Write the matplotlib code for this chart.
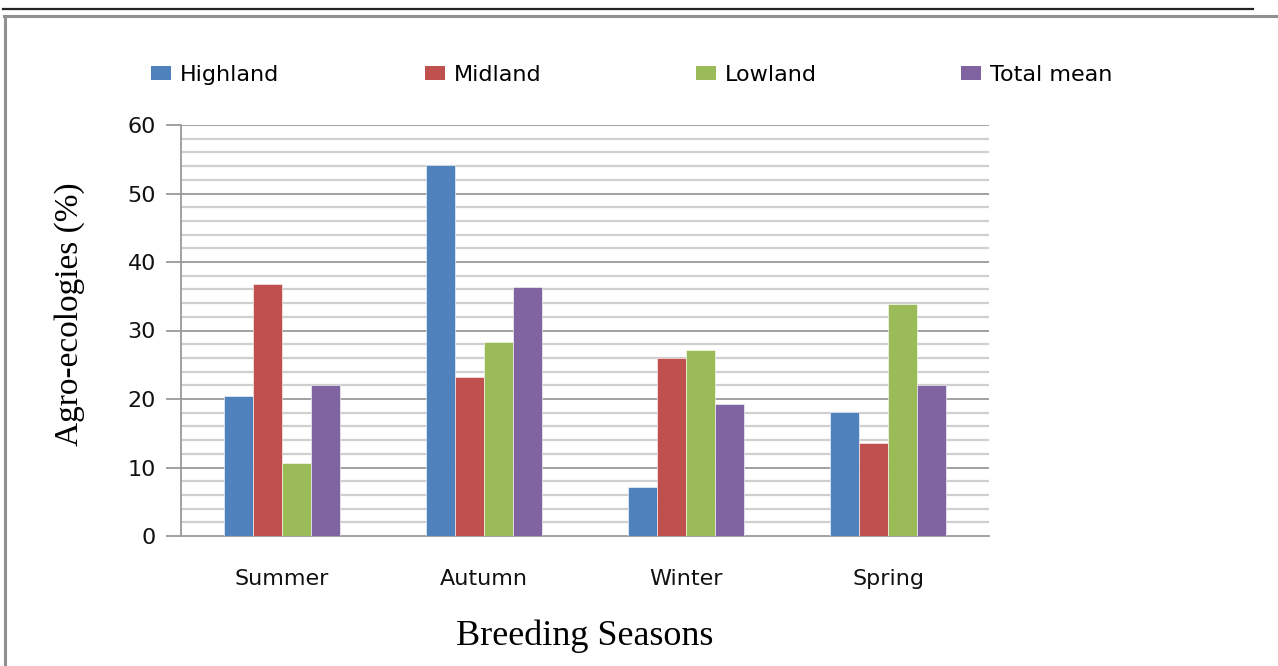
import matplotlib
matplotlib.use("Agg")
import matplotlib.pyplot as plt
from matplotlib.lines import Line2D
from matplotlib.patches import Patch
import numpy as np

seasons = ["Summer", "Autumn", "Winter", "Spring"]
series_names = ["Highland", "Midland", "Lowland", "Total mean"]
highland = [20.4, 54.2, 7.2, 18.1]
midland = [36.8, 23.2, 26.0, 13.6]
lowland = [10.7, 28.3, 27.1, 33.8]
total_mean = [22.0, 36.4, 19.3, 22.0]
colors = ["#4F81BD", "#C0504D", "#9BBB59", "#8064A2"]
yticks = [0, 10, 20, 30, 40, 50, 60]

SANS = "DejaVu Sans"
SERIF = "Liberation Serif"

fig = plt.figure(figsize=(12.78, 6.66), dpi=100)
W, H = 1278, 666

ax = fig.add_axes([181 / W, 1 - 536 / H, (989 - 181) / W, (536 - 125) / H])

x = np.arange(len(seasons))
bw = 0.144
data = [highland, midland, lowland, total_mean]
for i, (vals, c) in enumerate(zip(data, colors)):
    ax.bar(x + (i - 1.5) * bw, vals, width=bw, color=c, zorder=3,
           edgecolor="white", linewidth=0.4)

ax.set_xlim(-0.5, 3.5)
ax.set_ylim(0, 60)

# light minor grid every 2 units, darker major grid every 10
for v in np.arange(2, 60, 2):
    if v % 10:
        ax.axhline(v, color="#cfcfcf", lw=1.6, zorder=1)
for v in yticks[1:]:
    ax.axhline(v, color="#9a9a9a", lw=1.3, zorder=1.5)

for s in ["top", "right"]:
    ax.spines[s].set_visible(False)
for s in ["left", "bottom"]:
    ax.spines[s].set_color("#9a9a9a")
    ax.spines[s].set_linewidth(1.3)

ax.set_yticks(yticks)
ax.set_yticklabels([str(t) for t in yticks], fontfamily=SANS, fontsize=16, color="#111111")
ax.tick_params(axis="y", length=11, color="#9a9a9a", width=1.3, pad=7)
ax.set_xticks(x)
ax.set_xticklabels(seasons, fontfamily=SANS, fontsize=16, color="#111111")
ax.tick_params(axis="x", length=0, pad=24)

ax.set_ylabel("Agro-ecologies (%)", fontfamily=SERIF, fontsize=24)
ax.yaxis.set_label_coords(-0.119, 0.54)
ax.set_xlabel("Breeding Seasons", fontfamily=SERIF, fontsize=26, labelpad=22)

# legend entries along the top, one per series
legend_x = [151, 425, 696, 961]
for name, c, lx in zip(series_names, colors, legend_x):
    fig.legend([Patch(facecolor=c, edgecolor="none")], [name], loc="center left",
               bbox_to_anchor=(lx / W, 1 - 75 / H), frameon=False,
               prop={"family": SANS, "size": 16},
               handlelength=0.9, handleheight=0.58, handletextpad=0.4,
               borderpad=0, borderaxespad=0)

# page frame lines
fig.add_artist(Line2D([3 / W, 1253 / W], [1 - 9 / H, 1 - 9 / H], color="#222222", lw=1.6))
fig.add_artist(Line2D([4 / W, 1.0], [1 - 15.5 / H, 1 - 15.5 / H], color="#909090", lw=2.2))
fig.add_artist(Line2D([5 / W, 5 / W], [0, 1 - 15.5 / H], color="#909090", lw=2.2))

fig.savefig("out.png", dpi=100)
